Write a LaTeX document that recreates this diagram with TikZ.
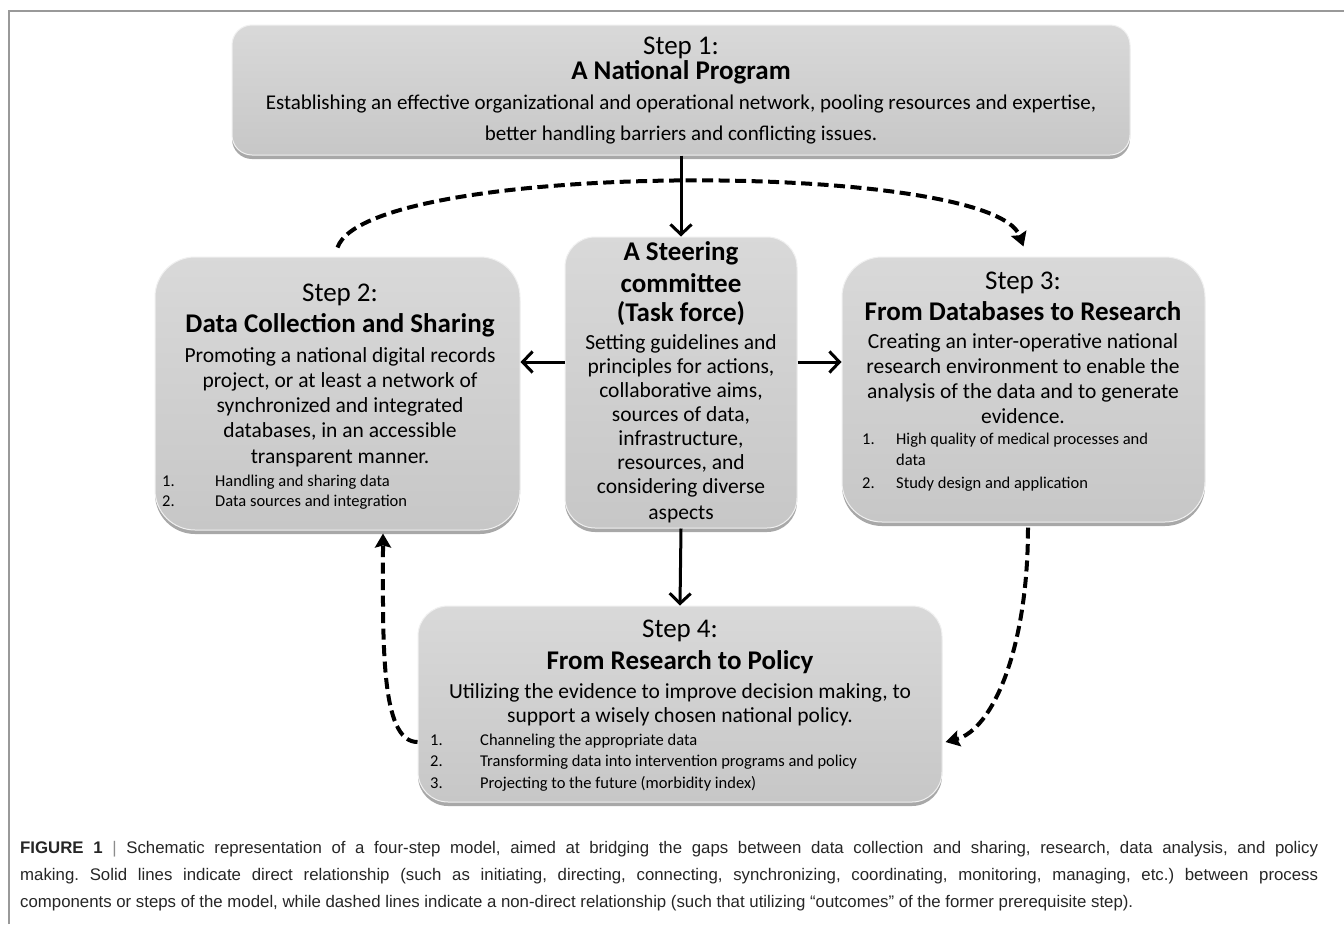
\documentclass[tikz,border=0pt]{standalone}
\usepackage{fontspec}
\setmainfont{Carlito}
\newfontfamily\capfont{Liberation Sans}
\usetikzlibrary{arrows.meta,shadows}
\newcommand\tline[4][]{\node[anchor=base,inner sep=0pt,#1] (#2) at (#3) {#4};}
\frenchspacing
\begin{document}
\begin{tikzpicture}[x=1pt,y=-1pt,
  box/.style={draw=black!6, line width=1pt, top color=black!15, bottom color=black!22,
    drop shadow={shadow xshift=0pt,shadow yshift=-4pt,opacity=0.45,fill=black!75}},
  sarrow/.style={line width=3pt,-{Straight Barb[length=10pt,width=21pt]}},
  darrow/.style={line width=4pt,dash pattern=on 11pt off 5.5pt,-{Stealth[length=14pt,width=16pt,inset=2pt]}},
  hd/.style={font=\fontsize{27}{30}\selectfont},
  hdb/.style={font=\bfseries\fontsize{27}{30}\selectfont},
  bd/.style={font=\fontsize{21.5}{24}\selectfont},
  bdone/.style={font=\fontsize{21}{24}\selectfont},
  ls/.style={font=\fontsize{16.5}{20}\selectfont, anchor=base west},
  captext/.style={font=\capfont\fontsize{16.8}{18}\selectfont, text=black!85, anchor=base west, inner sep=0pt}]
\useasboundingbox (0,0) rectangle (1344,924);
\fill[white] (0,0) rectangle (1344,924);
\draw[black!40, line width=1.5pt] (9,924) -- (9,11) -- (1344,11);

% boxes
\node[box, rounded corners=20pt, minimum width=898pt, minimum height=130pt] (s1) at (681,90) {};
\node[box, rounded corners=30pt, minimum width=232pt, minimum height=291pt] (tc) at (681,382.5) {};
\node[box, rounded corners=40pt, minimum width=365pt, minimum height=273pt] (s2) at (337.5,393.5) {};
\node[box, rounded corners=40pt, minimum width=363pt, minimum height=265pt] (s3) at (1023.5,389.5) {};
\node[box, rounded corners=30pt, minimum width=524pt, minimum height=196pt] (s4) at (680,704) {};

% step 1
\tline[hd]{s1a}{681,54}{Step 1:}
\tline[hdb]{s1b}{681,79}{A National Program}
\tline[bdone]{s1c}{681,109}{Establishing an effective organizational and operational network, pooling resources and expertise,}
\tline[bdone]{s1d}{681,140}{better handling barriers and conflicting issues.}

% steering committee
\tline[hdb]{tca}{681,260}{A Steering}
\tline[hdb]{tcb}{681,292}{committee}
\tline[hdb]{tcc}{681,321}{(Task force)}
\tline[bd]{tcd}{681,349}{Setting guidelines and}
\tline[bd]{tce}{681,373}{principles for actions,}
\tline[bd]{tcf}{681,397}{collaborative aims,}
\tline[bd]{tcg}{681,421}{sources of data,}
\tline[bd]{tch}{681,445}{infrastructure,}
\tline[bd]{tci}{681,469}{resources, and}
\tline[bd]{tcj}{681,493}{considering diverse}
\tline[bd]{tck}{681,519}{aspects}

% step 2
\tline[hd]{s2a}{340,301}{Step 2:}
\tline[hdb]{s2b}{340,332}{Data Collection and Sharing}
\tline[bd]{s2c}{340,362}{Promoting a national digital records}
\tline[bd]{s2d}{340,387}{project, or at least a network of}
\tline[bd]{s2e}{340,412}{synchronized and integrated}
\tline[bd]{s2f}{340,437}{databases, in an accessible}
\tline[bd]{s2g}{340,463}{transparent manner.}
\tline[ls]{s2h}{162,486}{1.}
\tline[ls]{s2i}{215,486}{Handling and sharing data}
\tline[ls]{s2j}{162,506}{2.}
\tline[ls]{s2k}{215,506}{Data sources and integration}

% step 3
\tline[hd]{s3a}{1023,289}{Step 3:}
\tline[hdb]{s3b}{1023,320}{From Databases to Research}
\tline[bd]{s3c}{1023,348}{Creating an inter-operative national}
\tline[bd]{s3d}{1023,373}{research environment to enable the}
\tline[bd]{s3e}{1023,398}{analysis of the data and to generate}
\tline[bd]{s3f}{1023,423}{evidence.}
\tline[ls]{s3g}{862,444}{1.}
\tline[ls]{s3h}{896,444}{High quality of medical processes and}
\tline[ls]{s3i}{896,465}{data}
\tline[ls]{s3j}{862,488}{2.}
\tline[ls]{s3k}{896,488}{Study design and application}

% step 4
\tline[hd]{s4a}{680,637}{Step 4:}
\tline[hdb]{s4b}{680,669}{From Research to Policy}
\tline[bd]{s4c}{680,698}{Utilizing the evidence to improve decision making, to}
\tline[bd]{s4d}{680,722}{support a wisely chosen national policy.}
\tline[ls]{s4e}{430,745}{1.}
\tline[ls]{s4f}{480,745}{Channeling the appropriate data}
\tline[ls]{s4g}{430,766}{2.}
\tline[ls]{s4h}{480,766}{Transforming data into intervention programs and policy}
\tline[ls]{s4i}{430,788}{3.}
\tline[ls]{s4j}{480,788}{Projecting to the future (morbidity index)}

% dashed connectors
\coordinate (dl) at (0,742);
\coordinate (dlx) at (383,0);
\coordinate (drx) at (1028,0);
\draw[darrow] ([yshift=9pt]s2.north) .. controls (368,160) and (992,160) .. ([yshift=10pt]s3.north);
\draw[darrow] (s4.west |- dl) .. controls (380,742) and (383,640) .. ([yshift=-3pt]s2.south -| dlx);
\draw[darrow] ([yshift=-5pt]s3.south -| drx) .. controls (1028,650) and (992,730) .. ([xshift=3pt]s4.east |- dl);

% solid connectors
\coordinate (ah) at (681,362);
\draw[sarrow] (s1.south) -- (tc.north);
\draw[sarrow] (tc.west |- ah) -- (s2.east |- ah);
\draw[sarrow] (tc.east |- ah) -- (s3.west |- ah);
\draw[sarrow] (tc.south) -- (s4.north);

% caption
\node[captext] (c1) at (20,853) {\makebox[1298pt][s]{\textbf{FIGURE 1} {\color{black!45}|} Schematic representation of a four-step model, aimed at bridging the gaps between data collection and sharing, research, data analysis, and policy}};
\node[captext] (c2) at (20,880) {\makebox[1298pt][s]{making. Solid lines indicate direct relationship (such as initiating, directing, connecting, synchronizing, coordinating, monitoring, managing, etc.) between process}};
\node[captext] (c3) at (20,907) {components or steps of the model, while dashed lines indicate a non-direct relationship (such that utilizing “outcomes” of the former prerequisite step).};
\end{tikzpicture}
\end{document}
